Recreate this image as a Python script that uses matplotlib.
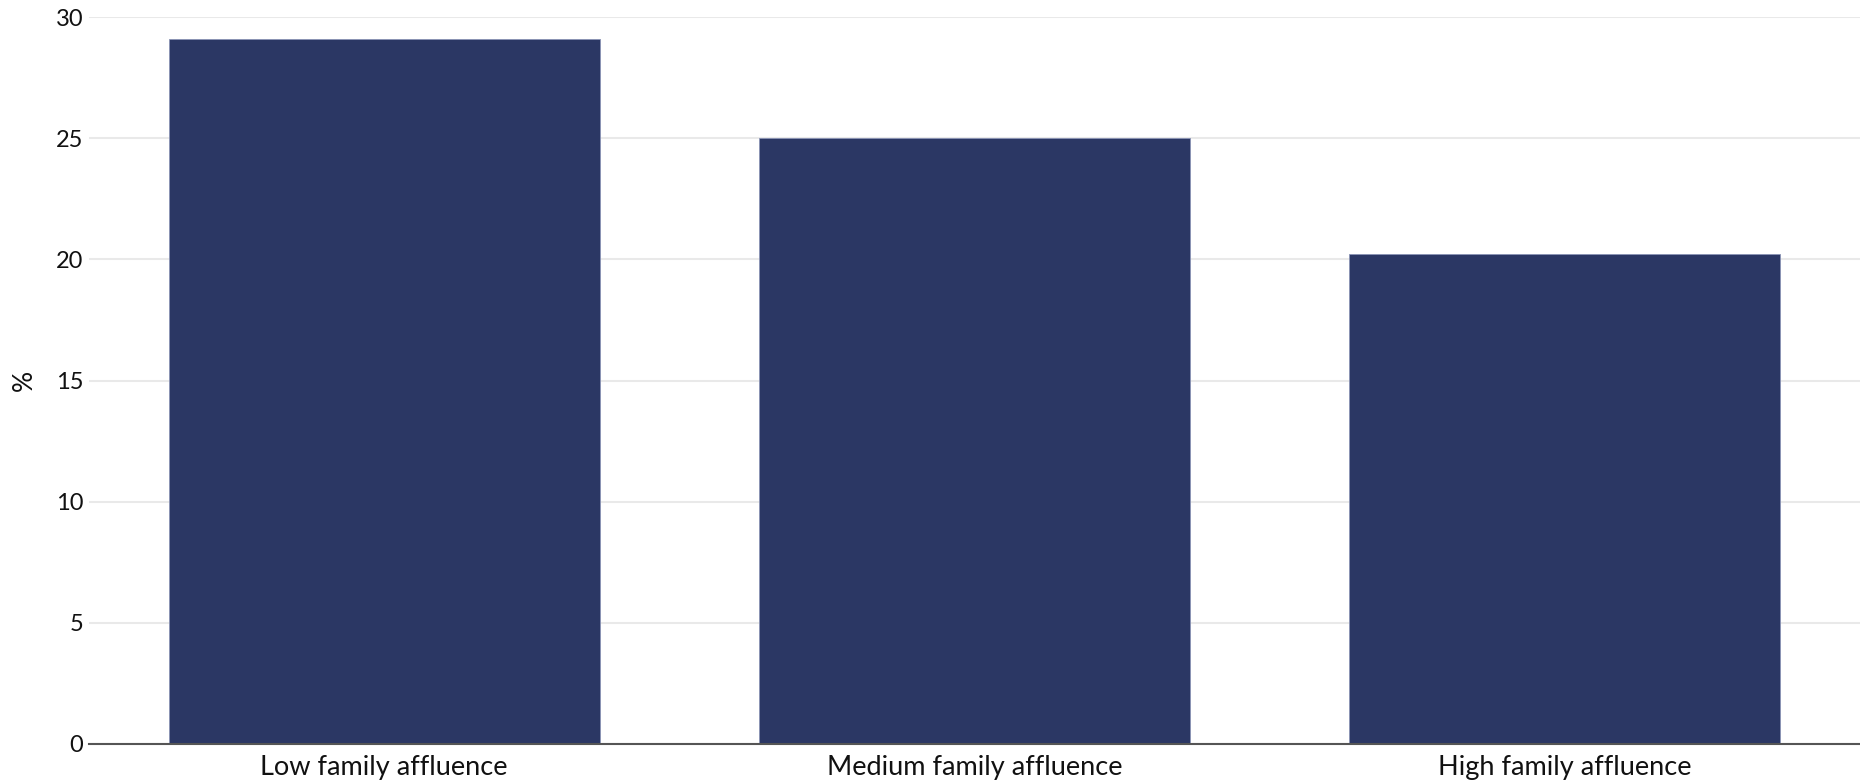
import matplotlib
matplotlib.use("Agg")
import matplotlib.pyplot as plt

categories = ["Low family affluence", "Medium family affluence", "High family affluence"]
values = [29.1, 25.0, 20.2]
yticks = [0, 5, 10, 15, 20, 25, 30]

plt.rcParams['font.family'] = ['Lato', 'DejaVu Sans']

fig = plt.figure(figsize=(18.6, 7.8), dpi=100)
ax = fig.add_axes([89/1860, 1 - 744/780, 1 - 89/1860, (744 - 17)/780])

x = list(range(len(categories)))
ax.bar(x, values, width=0.73, color="#2b3764", edgecolor="#8a93b5", linewidth=0.6, zorder=3)

ax.set_xlim(-0.5, len(categories) - 0.5)
ax.set_ylim(0, 30)
ax.set_yticks(yticks)
ax.set_yticklabels([str(t) for t in yticks])
ax.set_xticks(x)
ax.set_xticklabels(categories)

ax.grid(axis="y", color="#e9e9e9", linewidth=1.5, zorder=0)
ax.set_axisbelow(True)
for s in ["top", "right", "left"]:
    ax.spines[s].set_visible(False)
ax.spines["bottom"].set_color("#555555")
ax.spines["bottom"].set_linewidth(1.5)
ax.spines["bottom"].set_zorder(4)

ax.tick_params(axis="y", length=0, pad=4, labelsize=17, labelcolor="#111111")
ax.tick_params(axis="x", length=0, pad=8, labelsize=19.5, labelcolor="#111111")

ax.set_ylabel("%", fontsize=19, color="#111111", labelpad=14)

fig.savefig("out.png", dpi=100, facecolor="white")
